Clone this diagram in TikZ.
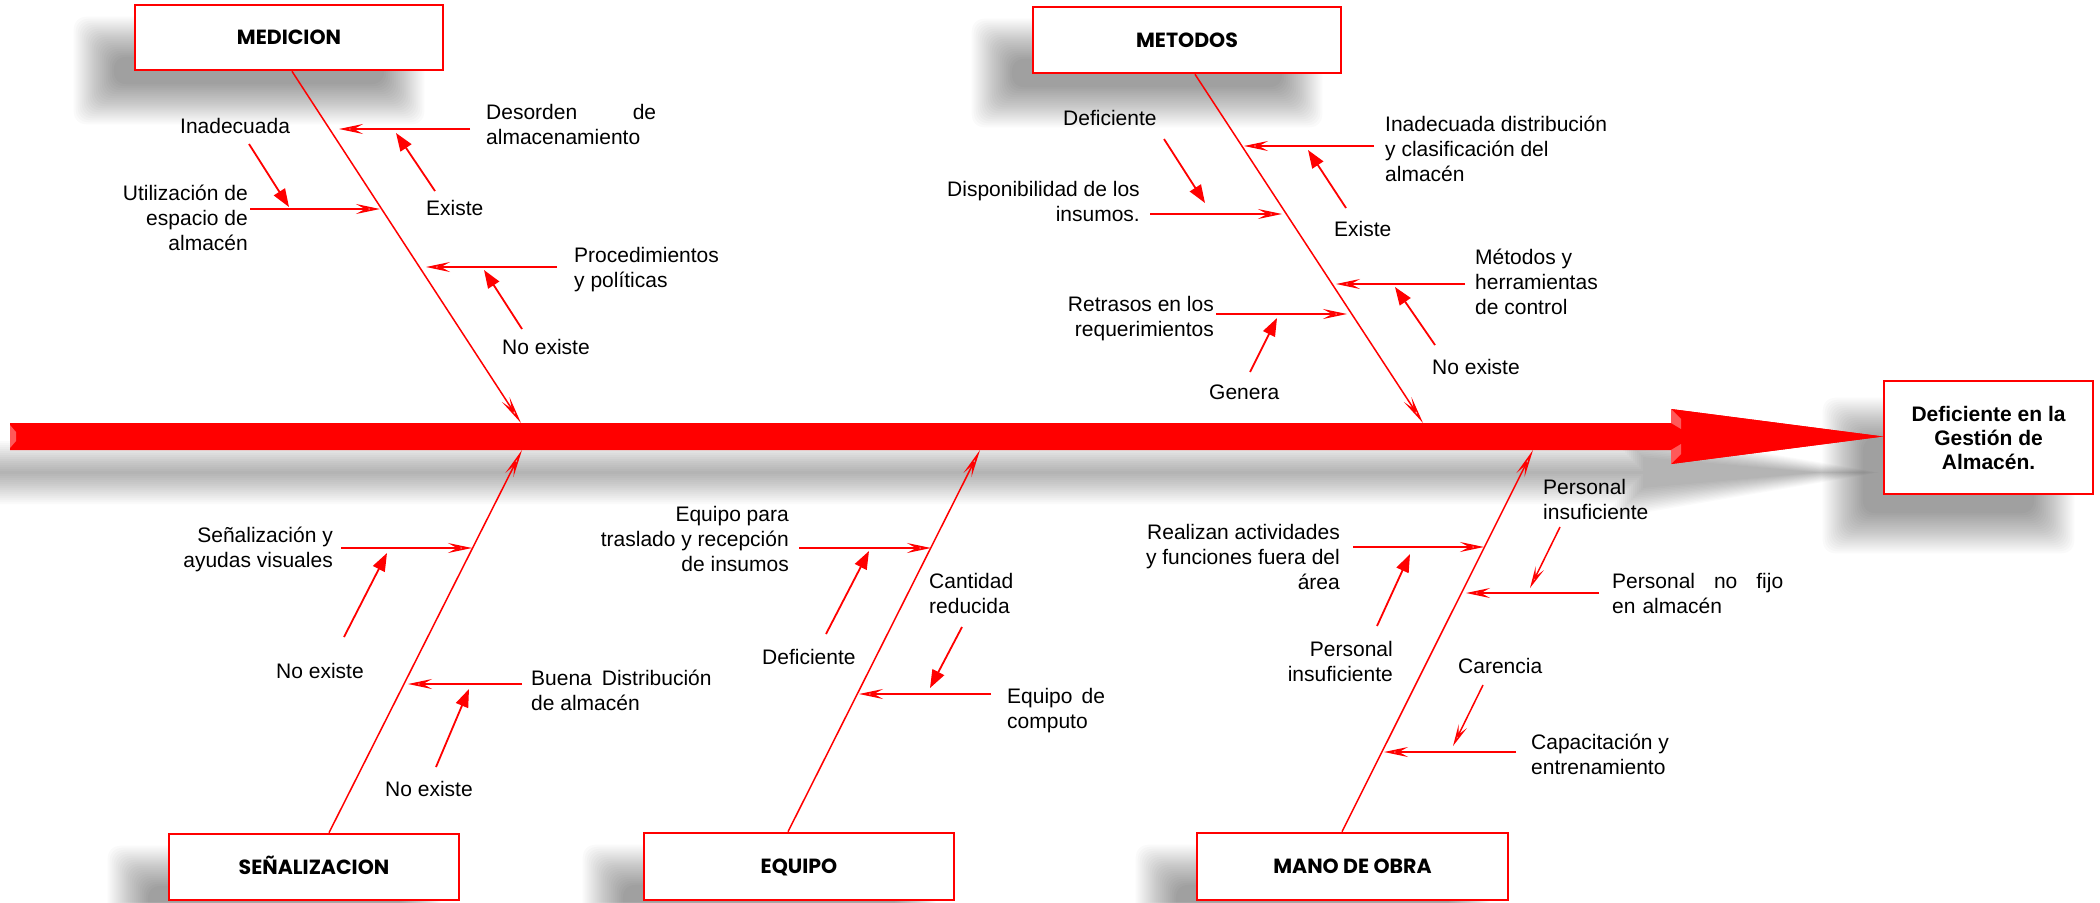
\documentclass[tikz,border=0pt]{standalone}
\usepackage{fontspec}
\setmainfont{Liberation Sans}
\newfontfamily\titlefont{Poppins}
\usetikzlibrary{arrows.meta,calc}

\definecolor{fbred}{RGB}{255,0,0}
\pgfdeclarehorizontalshading{headshade}{100bp}{color(0bp)=(fbred); color(72bp)=(fbred); color(100bp)=(fbred!78!black)}
\pgfdeclarelayer{paper}
\pgfdeclarelayer{shade}
\pgfsetlayers{paper,shade,main}

\tikzset{
  spine/.style={draw=fbred, line width=1.5pt, -{Stealth[open, length=28pt, width=9pt, inset=11pt]}},
  cause/.style={draw=fbred, line width=1.8pt, -{Stealth[open, length=24pt, width=10pt, inset=9pt]}},
  hint/.style={draw=fbred, line width=1.8pt, -{Triangle[length=18pt, width=13pt]}},
  hintthin/.style={draw=fbred, line width=1.5pt, -{Stealth[open, length=22pt, width=9pt, inset=9pt]}},
  catbox/.style={draw=fbred, line width=2.6pt, fill=white, inner sep=0pt,
    text height=14pt, text depth=0pt, font=\titlefont\bfseries\fontsize{20.5}{24}\selectfont},
  effectbox/.style={draw=fbred, line width=2.6pt, fill=white, align=center, inner sep=0pt,
    font=\bfseries\fontsize{21}{24}\selectfont},
  lbl/.style={inner sep=0pt, font=\fontsize{21}{25}\selectfont},
  haze/.style={black, opacity=0.019},
}

% soft drop shadow behind a box node: stacked rectangles growing outwards
\newcommand\castshadow[3]{%
  \begin{pgfonlayer}{shade}
    \foreach \k in {-20,-18,...,20}{
      \fill[haze, rounded corners=12pt] ($(#1.north west)+(#2-\k,#3-\k)$) rectangle ($(#1.south east)+(#2+\k,#3+\k)$);
    }
  \end{pgfonlayer}}

\begin{document}
\begin{tikzpicture}[x=1pt,y=-1pt]
\useasboundingbox (0,0) rectangle (2100,902);
\begin{pgfonlayer}{paper}
  \fill[white] (0,0) rectangle (2100,902);
\end{pgfonlayer}

% ---- main backbone arrow ----
\begin{pgfonlayer}{shade}
  \foreach \k in {-12,-10,...,18}{
    \fill[black, opacity=0.019, shift={(-40,36)}]
      (10-\k,423-\k) -- (1671-\k,423-\k) -- (1671-\k,409-\k) -- (1883+2*\k,436.5)
      -- (1671-\k,464+\k) -- (1671-\k,450+\k) -- (10-\k,450+\k) -- cycle;
  }
\end{pgfonlayer}
\fill[fbred]
  (10,423) -- (1671,423) -- (1671,409) -- (1883,436.5) -- (1671,464) -- (1671,450) -- (10,450) -- cycle;
\shade[shading=headshade] (1671,409) -- (1883,436.5) -- (1671,464) -- cycle;
\fill[fbred] (1660,423) rectangle (1690,450);
\fill[fbred!65!white] (1671,409) -- (1681,419) -- (1681,429) -- (1671,423) -- cycle;
\fill[fbred!65!white] (1671,464) -- (1681,454) -- (1681,444) -- (1671,450) -- cycle;
\fill[fbred!65!white] (10,425) -- (16,432) -- (16,441) -- (10,448) -- cycle;

% ---- effect ----
\node[effectbox, minimum width=209pt, minimum height=113pt] (effect) at (1988.5,437.5)
  {Deficiente en la\\Gestión de\\Almacén.};
\castshadow{effect}{-40}{38}

% ---- category boxes ----
\node[catbox, minimum width=308pt, minimum height=65pt] (medicion) at (289,37.5) {MEDICION};
\node[catbox, minimum width=308pt, minimum height=66pt] (metodos) at (1187,40) {METODOS};
\node[catbox, minimum width=290pt, minimum height=66pt] (senal) at (314,867) {SEÑALIZACION};
\node[catbox, minimum width=310pt, minimum height=67pt] (equipo) at (799,866.5) {EQUIPO};
\node[catbox, minimum width=311pt, minimum height=67pt] (mano) at (1352.5,866.5) {MANO DE OBRA};
\castshadow{medicion}{-40}{33}
\castshadow{metodos}{-40}{33}
\castshadow{senal}{-40}{33}
\castshadow{equipo}{-40}{33}
\castshadow{mano}{-40}{33}

% ---- spines ----
\coordinate (med_s) at (292,70);   \coordinate (med_tip) at (521,423);
\coordinate (met_s) at (1195,74);  \coordinate (met_tip) at (1423,423);
\coordinate (sen_s) at (329,834);  \coordinate (sen_tip) at (522,450);
\coordinate (equ_s) at (788,833);  \coordinate (equ_tip) at (980,450);
\coordinate (man_s) at (1342,833); \coordinate (man_tip) at (1533,450);
\draw[spine] (medicion.south -| med_s) -- (med_tip);
\draw[spine] (metodos.south -| met_s) -- (met_tip);
\draw[spine] (senal.north -| sen_s) -- (sen_tip);
\draw[spine] (equipo.north -| equ_s) -- (equ_tip);
\draw[spine] (mano.north -| man_s) -- (man_tip);

% multi-line labels without a text width are placed by the baseline of their last line

% ---- MEDICION ----
\node[lbl, anchor=base west, text width=170pt, align=left] (t_desorden) at (486,119.5) {Desorden\hfill de\\almacenamiento};
\node[lbl, anchor=base west] (t_existe_a) at (426,215.5) {Existe};
\node[lbl, anchor=base west] (t_inadecuada) at (180,133) {Inadecuada};
\node[lbl, anchor=base east, align=right] (t_utiliz) at (248,250.5) {Utilización de\\espacio de\\almacén};
\node[lbl, anchor=base west, align=left] (t_proced) at (574,287.5) {Procedimientos\\y políticas};
\node[lbl, anchor=base west] (t_noexiste_a) at (502,354.5) {No existe};

\coordinate (a1s) at (470,129); \coordinate (a1e) at (339,129);
\coordinate (a2s) at (435,191); \coordinate (a2e) at (396,133);
\coordinate (a3s) at (249,144); \coordinate (a3e) at (289,207);
\coordinate (a4s) at (250,209); \coordinate (a4e) at (380,209);
\coordinate (a5s) at (557,267); \coordinate (a5e) at (426,267);
\coordinate (a6s) at (522,329); \coordinate (a6e) at (484,270);
\draw[cause] (a1s) -- (a1e);
\draw[hint]  (a2s) -- (a2e);
\draw[hint]  (a3s) -- (a3e);
\draw[cause] (a4s) -- (a4e);
\draw[cause] (a5s) -- (a5e);
\draw[hint]  (a6s) -- (a6e);

% ---- METODOS ----
\node[lbl, anchor=base west, align=left] (t_inadist) at (1385,181.5) {Inadecuada distribución\\y clasificación del\\almacén};
\node[lbl, anchor=base west] (t_existe_b) at (1334,236.5) {Existe};
\node[lbl, anchor=base west] (t_deficiente_a) at (1063,125.5) {Deficiente};
\node[lbl, anchor=base east, align=right] (t_dispon) at (1140,221.5) {Disponibilidad de los\\insumos.};
\node[lbl, anchor=base west, align=left] (t_metodos) at (1475,314.5) {Métodos y\\herramientas\\de control};
\node[lbl, anchor=base west] (t_noexiste_b) at (1432,374.5) {No existe};
\node[lbl, anchor=base east, align=right] (t_retrasos) at (1214,336.5) {Retrasos en los\\requerimientos};
\node[lbl, anchor=base west] (t_genera) at (1209,399.5) {Genera};

\coordinate (b1s) at (1374,146); \coordinate (b1e) at (1244,146);
\coordinate (b2s) at (1346,208); \coordinate (b2e) at (1308,150);
\coordinate (b3s) at (1164,139); \coordinate (b3e) at (1205,203);
\coordinate (b4s) at (1150,214); \coordinate (b4e) at (1282,214);
\coordinate (b5s) at (1465,284); \coordinate (b5e) at (1336,284);
\coordinate (b6s) at (1435,345); \coordinate (b6e) at (1395,287);
\coordinate (b7s) at (1216,314); \coordinate (b7e) at (1347,314);
\coordinate (b8s) at (1250,372); \coordinate (b8e) at (1277,318);
\draw[cause] (b1s) -- (b1e);
\draw[hint]  (b2s) -- (b2e);
\draw[hint]  (b3s) -- (b3e);
\draw[cause] (b4s) -- (b4e);
\draw[cause] (b5s) -- (b5e);
\draw[hint]  (b6s) -- (b6e);
\draw[cause] (b7s) -- (b7e);
\draw[hint]  (b8s) -- (b8e);

% ---- SEÑALIZACION ----
\node[lbl, anchor=base east, align=right] (t_senal) at (333,567.5) {Señalización y\\ayudas visuales};
\node[lbl, anchor=base west] (t_noexiste_c) at (276,678.5) {No existe};
\node[lbl, anchor=base west, align=left] (t_buena) at (531,710.5) {Buena\hspace{10pt}Distribución\\de almacén};
\node[lbl, anchor=base west] (t_noexiste_d) at (385,796.5) {No existe};

\coordinate (c1s) at (341,548); \coordinate (c1e) at (472,548);
\coordinate (c2s) at (344,637); \coordinate (c2e) at (387,553);
\coordinate (c3s) at (522,684); \coordinate (c3e) at (408,684);
\coordinate (c4s) at (436,767); \coordinate (c4e) at (469,689);
\draw[cause] (c1s) -- (c1e);
\draw[hint]  (c2s) -- (c2e);
\draw[cause] (c3s) -- (c3e);
\draw[hint]  (c4s) -- (c4e);

% ---- EQUIPO ----
\node[lbl, anchor=base east, align=right] (t_equipo) at (789,571.5) {Equipo para\\traslado y recepción\\de insumos};
\node[lbl, anchor=base west] (t_deficiente_b) at (762,664.5) {Deficiente};
\node[lbl, anchor=base west, align=left] (t_cantidad) at (929,613.5) {Cantidad\\reducida};
\node[lbl, anchor=base west, align=left] (t_computo) at (1007,728.5) {Equipo\hspace{9pt}de\\computo};

\coordinate (d1s) at (799,548); \coordinate (d1e) at (931,548);
\coordinate (d2s) at (826,634); \coordinate (d2e) at (869,551);
\coordinate (d3s) at (962,627); \coordinate (d3e) at (930,688);
\coordinate (d4s) at (991,694); \coordinate (d4e) at (859,694);
\draw[cause] (d1s) -- (d1e);
\draw[hint]  (d2s) -- (d2e);
\draw[hint]  (d3s) -- (d3e);
\draw[cause] (d4s) -- (d4e);

% ---- MANO DE OBRA ----
\node[lbl, anchor=base east, align=right] (t_realizan) at (1340,589.5) {Realizan actividades\\y funciones fuera del\\área};
\node[lbl, anchor=base east, align=right] (t_insuf_a) at (1393,681.5) {Personal\\insuficiente};
\node[lbl, anchor=base west, align=left] (t_insuf_b) at (1543,519.5) {Personal\\insuficiente};
\node[lbl, anchor=base west, text width=171pt, align=left] (t_nofijo) at (1612,588.5) {Personal\hfill no\hfill fijo\\en almacén};
\node[lbl, anchor=base west] (t_carencia) at (1458,673.5) {Carencia};
\node[lbl, anchor=base west, align=left] (t_capacit) at (1531,774.5) {Capacitación y\\entrenamiento};

\coordinate (e1s) at (1353,547); \coordinate (e1e) at (1484,547);
\coordinate (e2s) at (1377,626); \coordinate (e2e) at (1410,554);
\coordinate (e3s) at (1560,527); \coordinate (e3e) at (1530,588);
\coordinate (e4s) at (1599,593); \coordinate (e4e) at (1466,593);
\coordinate (e5s) at (1483,685); \coordinate (e5e) at (1453,746);
\coordinate (e6s) at (1516,752); \coordinate (e6e) at (1384,752);
\draw[cause]    (e1s) -- (e1e);
\draw[hint]     (e2s) -- (e2e);
\draw[hintthin] (e3s) -- (e3e);
\draw[cause]    (e4s) -- (e4e);
\draw[hintthin] (e5s) -- (e5e);
\draw[cause]    (e6s) -- (e6e);
\end{tikzpicture}
\end{document}
